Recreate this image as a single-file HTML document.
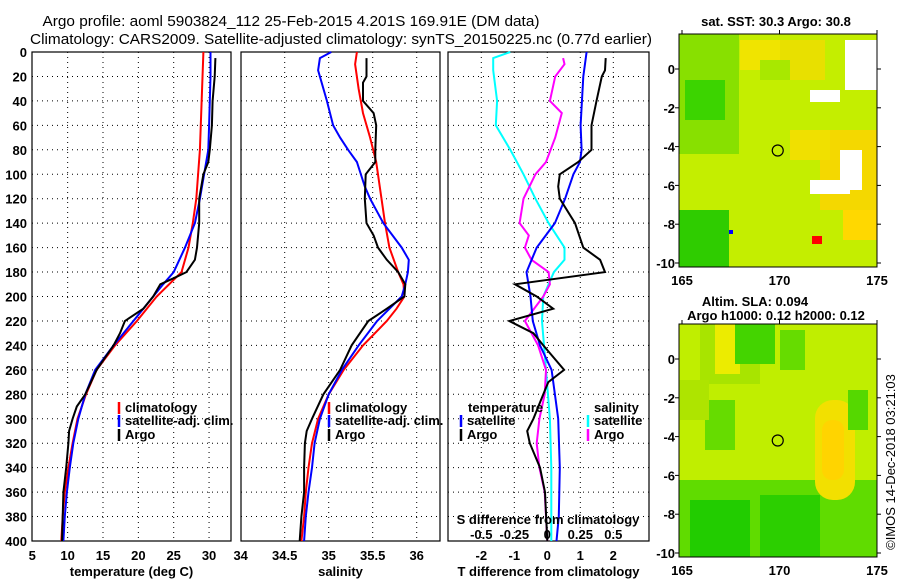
<!DOCTYPE html>
<html><head><meta charset="utf-8"><style>
body{margin:0;background:#fff;}
svg{display:block;font-family:"Liberation Sans",sans-serif;}
.t{font-size:13px;font-weight:bold;fill:#000;}
</style></head><body>
<svg id="chart" width="900" height="580" xmlns="http://www.w3.org/2000/svg">
<rect width="900" height="580" fill="#fff"/>
<text x="291" y="26" font-size="15" text-anchor="middle" textLength="497" lengthAdjust="spacingAndGlyphs">Argo profile: aoml 5903824_112 25-Feb-2015 4.201S 169.91E (DM data)</text>
<text x="341" y="44" font-size="15" text-anchor="middle" textLength="622" lengthAdjust="spacingAndGlyphs">Climatology: CARS2009. Satellite-adjusted climatology: synTS_20150225.nc (0.77d earlier)</text>
<g id="p1"></g>
<g id="p2"></g>
<g id="p3"></g>
<g id="maps"></g>
</svg>
<script>
const NS="http://www.w3.org/2000/svg";
// ---- data ----
const depthTicks=[0,20,40,60,80,100,120,140,160,180,200,220,240,260,280,300,320,340,360,380,400];
const tempTicks=[5,10,15,20,25,30];
const salTicks=[34,34.5,35,35.5,36];
const tdTicks=[-2,-1,0,1,2];
const sdTicks=[-0.5,-0.25,0,0.25,0.5];
const climTD=[0,80,120,140,160,180,200,220,240,260,280,300,320,340,360,380,400];
const climT=[29.2,28.7,28.2,27.7,27.1,26.1,22.6,19.8,16.7,14.1,12.6,11.4,10.7,10.1,9.6,9.3,9.1];
const satTD=[0,20,60,80,100,120,140,160,180,190,200,220,240,260,280,300,320,340,360,380,400];
const satT=[30.2,30.2,30.0,29.9,29.3,28.7,28.0,26.6,25.0,23.5,22.1,19.3,16.5,13.9,12.5,11.5,10.8,10.3,9.9,9.6,9.4];
const argoTD=[5,20,40,60,80,90,100,120,140,160,170,180,185,190,200,210,220,230,240,250,260,280,290,300,310,320,340,360,380,400];
const argoT=[30.9,30.8,30.5,30.4,30.1,29.9,29.2,28.6,28.6,28.3,28.0,26.8,25.0,23.1,22.1,20.7,18.1,17.4,16.5,15.3,14.1,12.5,11.3,10.7,10.2,10.1,9.8,9.4,9.3,9.2];
const climSD=[0,10,30,50,70,90,120,140,160,180,190,200,210,220,240,260,280,300,320,340,360,380,400];
const climS=[35.32,35.30,35.34,35.39,35.47,35.54,35.60,35.64,35.69,35.79,35.85,35.86,35.77,35.66,35.39,35.17,35.0,34.88,34.81,34.77,34.74,34.72,34.69];
const satSD=[0,5,15,40,60,70,80,90,110,120,140,160,170,180,190,200,220,240,260,280,300,320,340,360,380,400];
const satS=[35.03,34.90,34.88,34.98,35.05,35.13,35.22,35.32,35.41,35.47,35.62,35.83,35.91,35.90,35.87,35.83,35.55,35.34,35.15,35.0,34.90,34.84,34.81,34.77,34.74,34.72];
const argoSD=[5,20,25,40,50,60,80,90,100,120,140,150,160,170,180,190,200,210,220,240,260,280,300,310,320,340,360,380,400];
const argoS=[35.43,35.43,35.39,35.39,35.51,35.54,35.53,35.53,35.42,35.41,35.43,35.51,35.56,35.66,35.79,35.87,35.86,35.66,35.45,35.26,35.13,34.94,34.81,34.75,34.73,34.72,34.72,34.69,34.67];
const satTdD=[0,20,60,80,90,100,120,140,160,180,200,220,240,260,280,300,340,380,400];
const satTd=[1.19,1.09,1.01,1.04,0.99,0.79,0.54,0.23,-0.32,-0.63,-0.51,-0.44,-0.22,0.13,0.23,0.33,0.38,0.35,0.28];
const argoTdD=[5,15,20,40,60,80,90,100,110,120,140,160,170,180,190,200,210,220,230,240,260,270,280,300,310,320,340,360,400];
const argoTd=[1.77,1.75,1.65,1.49,1.34,1.34,0.94,0.38,0.33,0.38,0.84,1.09,1.60,1.75,-0.98,-0.32,0.18,-1.15,-0.42,-0.12,0.51,0.03,-0.12,-0.42,-0.61,-0.53,-0.22,-0.07,0];
const satSdD=[0,5,15,40,60,80,100,120,140,160,170,180,200,220,260,300,340,400];
const satSd=[-0.28,-0.41,-0.41,-0.38,-0.39,-0.28,-0.18,-0.09,0.01,0.13,0.13,0.05,-0.03,-0.04,-0.01,0.02,0.03,0.03];
const argoSdD=[5,10,20,40,50,70,90,100,120,140,150,160,170,180,190,200,220,240,260,280,300,320,340,360,400];
const argoSd=[0.12,0.13,0.06,0.02,0.11,0.06,-0.01,-0.09,-0.18,-0.21,-0.14,-0.17,-0.12,0.01,0.02,-0.03,-0.17,-0.07,-0.01,-0.02,-0.06,-0.08,-0.06,-0.02,0];
const latTicks=[0,-2,-4,-6,-8,-10];
const lonTicks=[165,170,175];

// ---- helpers ----
function mk(tag,attrs,parent,txt){const e=document.createElementNS(NS,tag);for(const k in attrs)e.setAttribute(k,attrs[k]);if(txt!==undefined)e.textContent=txt;parent.appendChild(e);return e;}
const Y0=52,Y1=541;
const yD=d=>Y0+(d/400)*(Y1-Y0);
function panel(g,x0,x1,xs,xticks,fmt,title,showY){
  for(const d of depthTicks){const y=yD(d);
    if(d>0&&d<400){const l=mk('line',{x1:x0,x2:x1,y1:y,y2:y,stroke:'#000','stroke-dasharray':'1,4','stroke-width':1},g);}
    if(showY){const t=mk('text',{x:27,y:y+5,'text-anchor':'end',class:'t'},g,d);}
  }
  for(const v of xticks){const x=xs(v);
    if(x>x0+2&&x<x1-2){const l=mk('line',{x1:x,x2:x,y1:Y0,y2:Y1,stroke:'#000','stroke-dasharray':'1,4'},g);}
    const t=mk('text',{x:x,y:560,'text-anchor':'middle',class:'t'},g,fmt(v));}
  const r=mk('rect',{x:x0,y:Y0,width:x1-x0,height:Y1-Y0,fill:'none',stroke:'#000','stroke-width':1.2},g);
  
  const tt=mk('text',{x:(x0+x1)/2,y:576,'text-anchor':'middle',class:'t'},g,title);
  
}
function series(g,xs,ds,vs,color,w,name){
  const pts=ds.map((d,i)=>xs(vs[i]).toFixed(1)+','+yD(d).toFixed(1)).join(' ');
  const p=mk('polyline',{points:pts,fill:'none',stroke:color,'stroke-width':w},g);
  
}
function legend(g,x,y,color,label){
  const l=mk('line',{x1:x,x2:x,y1:y-10,y2:y+2,stroke:color,'stroke-width':2.5},g);
  
  if(label){const t=mk('text',{x:x+6,y:y,class:'t'},g,label);}
}
// panel 1
const p1=document.getElementById('p1');
const xT=v=>32.3+(v-5)*7.07;
panel(p1,32,231,xT,tempTicks,v=>v,'temperature (deg C)',true);
series(p1,xT,climTD,climT,'#f00',2,'climatology-temp-line');
series(p1,xT,satTD,satT,'#00f',2,'satellite-temp-line');
series(p1,xT,argoTD,argoT,'#000',2,'argo-temp-line');
legend(p1,119,412,'#f00','climatology');legend(p1,119,425,'#00f','satellite-adj. clim.');legend(p1,119,439,'#000','Argo');
// panel 2
const p2=document.getElementById('p2');
const xS=v=>240.7+(v-34)*88;
panel(p2,241,440,xS,salTicks,v=>v,'salinity',false);
series(p2,xS,climSD,climS,'#f00',2,'climatology-sal-line');
series(p2,xS,satSD,satS,'#00f',2,'satellite-sal-line');
series(p2,xS,argoSD,argoS,'#000',2,'argo-sal-line');
legend(p2,329,412,'#f00','climatology');legend(p2,329,425,'#00f','satellite-adj. clim.');legend(p2,329,439,'#000','Argo');
// panel 3
const p3=document.getElementById('p3');
const xTd=v=>547.3+v*33;
const xSd=v=>547.3+v*132;
panel(p3,448,649,xTd,tdTicks,v=>v,'T difference from climatology',false);
series(p3,xSd,satSdD,satSd,'#0ff',2,'satellite-sdiff-line');
series(p3,xSd,argoSdD,argoSd,'#f0f',2,'argo-sdiff-line');
series(p3,xTd,satTdD,satTd,'#00f',2,'satellite-tdiff-line');
series(p3,xTd,argoTdD,argoTd,'#000',2,'argo-tdiff-line');
{const t=mk('text',{x:468,y:412,class:'t'},p3,'temperature');
const t2=mk('text',{x:594,y:412,class:'t'},p3,'salinity');}
legend(p3,461,425,'#00f','satellite');legend(p3,461,439,'#000','Argo');
legend(p3,588,425,'#0ff','satellite');legend(p3,588,439,'#f0f','Argo');
{const t=mk('text',{x:548,y:524,'text-anchor':'middle',class:'t'},p3,'S difference from climatology');}
for(const v of sdTicks){const t=mk('text',{x:xSd(v),y:539,'text-anchor':'middle',class:'t'},p3,''+v);}

// maps
const mg=document.getElementById('maps');
function map(top,bot,lat0y,fills){
  const x0=679,x1=877;
  const lonX=l=>682+(l-165)*19.5;const latY=l=>lat0y-l*19.4;
  const bg=mk('rect',{x:x0,y:top,width:x1-x0,height:bot-top,fill:fills[0]},mg);
  
  for(const f of fills.slice(1)){const r=mk('rect',{x:f[0],y:f[1],width:f[2],height:f[3],fill:f[4],rx:f[5]||0},mg);}
  const fr=mk('rect',{x:x0,y:top,width:x1-x0,height:bot-top,fill:'none',stroke:'#000'},mg);
  
  for(const l of latTicks){const y=latY(l);
    mk('line',{x1:x0-4,x2:x0,y1:y,y2:y,stroke:'#000'},mg);mk('line',{x1:x1,x2:x1+4,y1:y,y2:y,stroke:'#000'},mg);
    const t=mk('text',{x:675,y:y+5,'text-anchor':'end',class:'t'},mg,l);}
  for(const l of lonTicks){const x=lonX(l);
    mk('line',{x1:x,x2:x,y1:top-4,y2:top,stroke:'#000'},mg);
    const t=mk('text',{x:x,y:bot+18,'text-anchor':'middle',class:'t'},mg,l);}
  const c=mk('circle',{cx:lonX(169.91),cy:latY(-4.201),r:5.5,fill:'none',stroke:'#000','stroke-width':1.2},mg);
  
}
map(34,267,69,['#c4ee00',
 [679,34,60,120,'#88e000'],[685,80,40,40,'#3cd400'],[679,210,50,57,'#2fcc00'],[740,40,60,30,'#f0e400'],
 [780,40,45,40,'#e8e000'],[820,130,57,80,'#f4d800'],[790,130,40,30,'#f0e000'],[810,180,40,14,'#fff'],[845,40,32,50,'#fff'],
 [810,90,30,12,'#fff'],[840,150,22,40,'#fff'],[843,210,34,30,'#ffd800'],[812,236,10,8,'#f00'],[729,230,4,4,'#00f'],[760,60,30,20,'#a8e800']]);
map(324,557,359,['#c0ee00',
 [700,324,60,60,'#a8e400'],[715,324,25,50,'#ecec00'],[735,324,40,40,'#44d400'],[780,330,25,40,'#66dc00'],
 [705,400,30,50,'#66dc00'],[679,480,198,77,'#60dc00'],[690,500,60,57,'#22cc00'],[760,495,60,62,'#2ccf00'],
 [815,400,40,100,'#f2e000',18],[822,420,22,60,'#ffd400',10],[848,390,20,40,'#55d800'],[679,380,30,40,'#aee400']]);
const tx=[[776,22,'sat. SST: 30.3 Argo: 30.8'],[755,302,'Altim. SLA: 0.094'],[776,316,'Argo h1000: 0.12 h2000: 0.12']];
for(const a of tx){const t=mk('text',{x:a[0],y:a[1]+4,'text-anchor':'middle',class:'t'},mg,a[2]);}
{const t=mk('text',{x:0,y:0,transform:'translate(895,462) rotate(-90)','text-anchor':'middle',style:'font-size:13px;fill:#000'},mg,'©IMOS 14-Dec-2018 03:21:03');}
</script>
</body></html>
